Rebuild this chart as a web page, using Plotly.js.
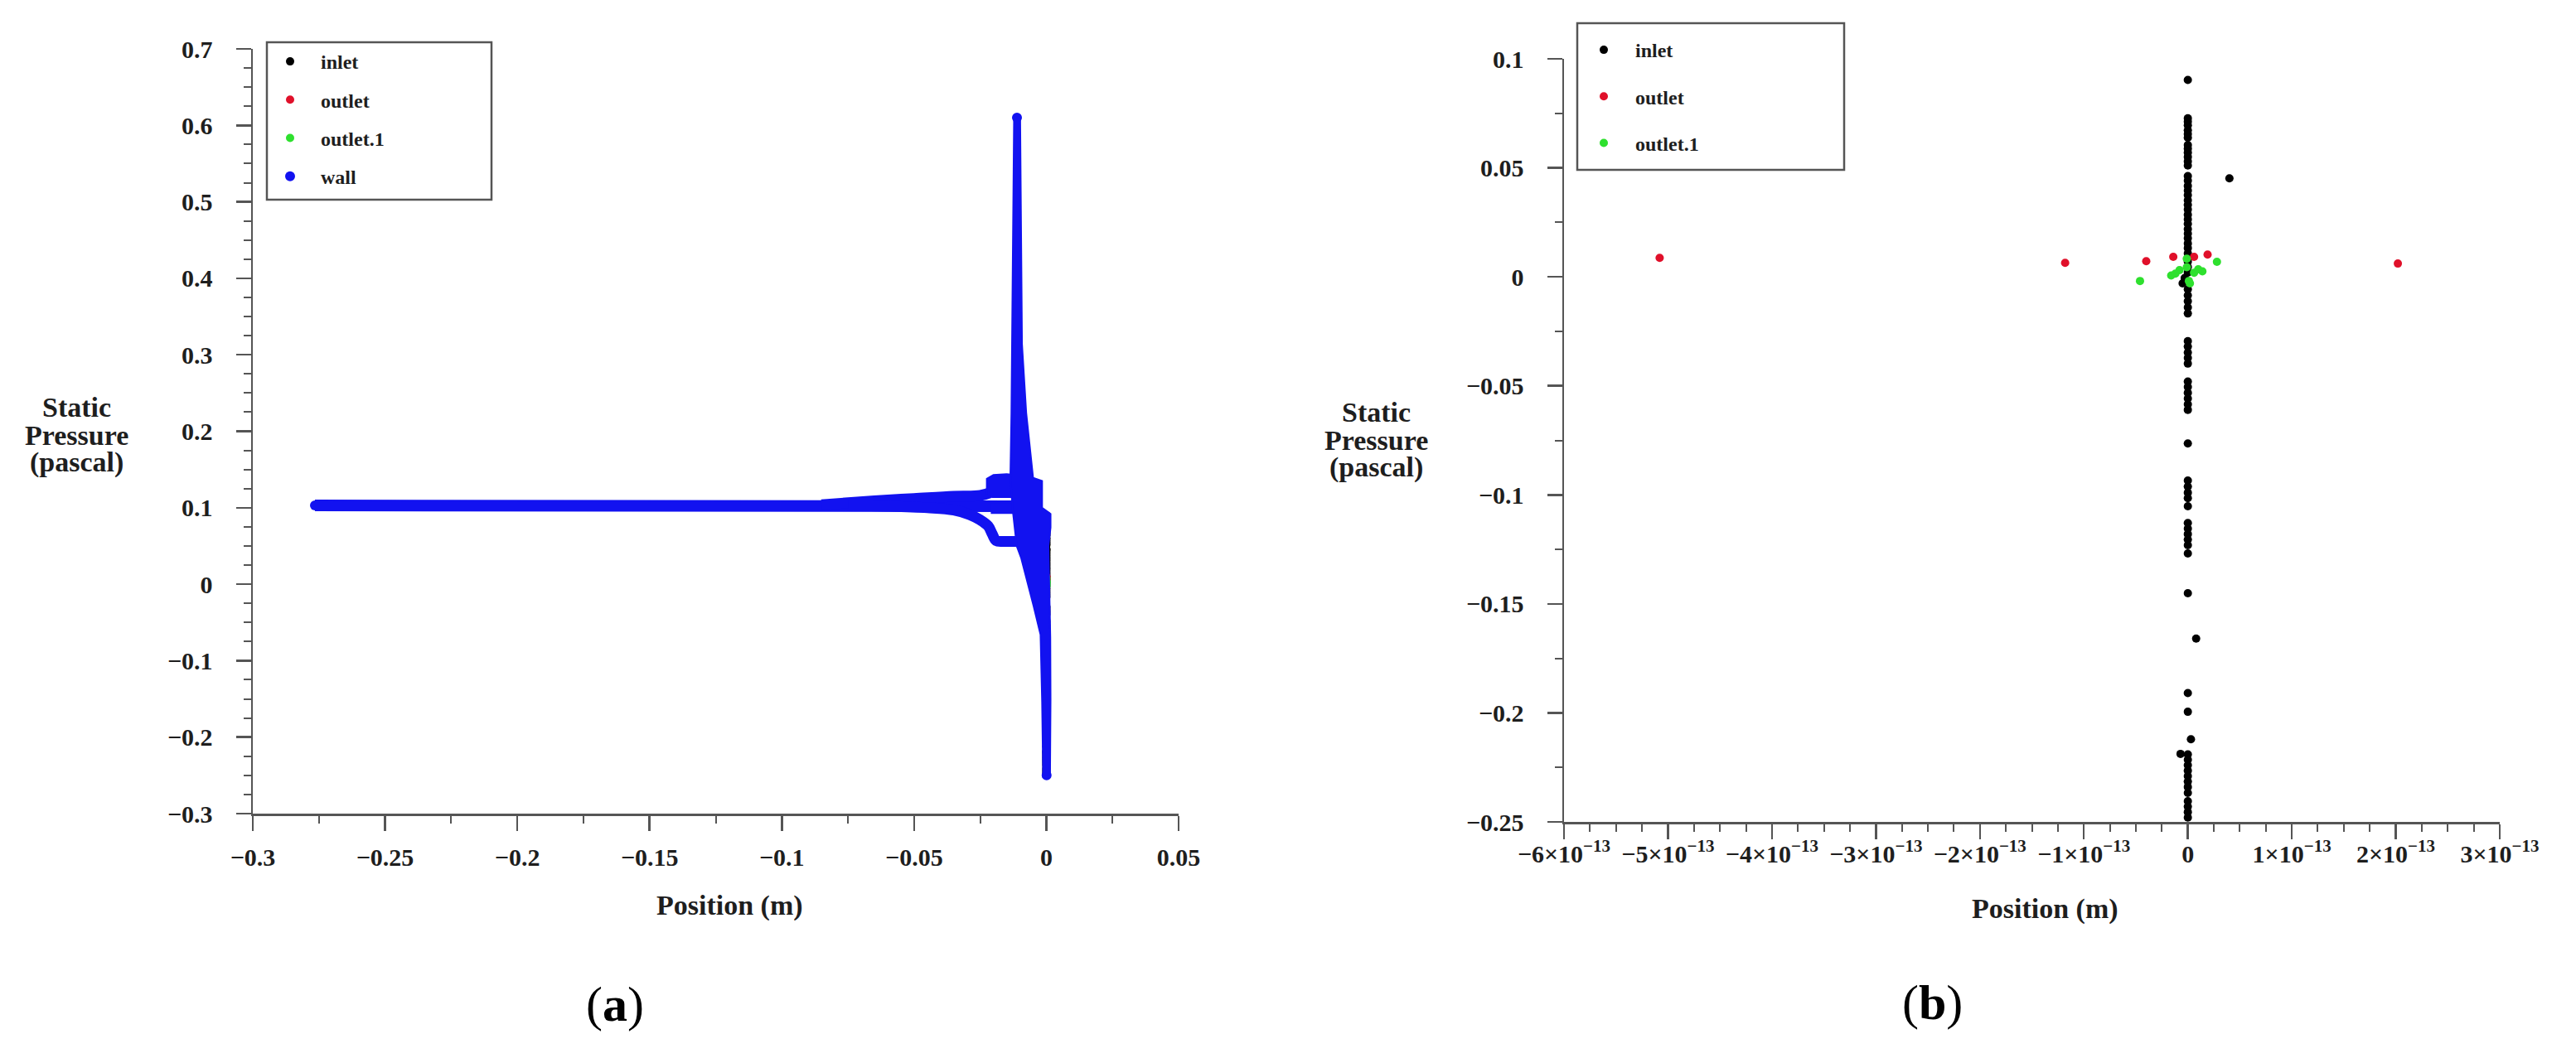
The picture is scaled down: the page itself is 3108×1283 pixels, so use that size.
<!DOCTYPE html>
<html>
<head>
<meta charset="utf-8">
<script src="https://cdn.plot.ly/plotly-3.0.1.min.js"></script>
<style>html,body{margin:0;padding:0;background:#fff;}#chart{width:3108px;height:1283px;}</style>
</head>
<body>
<div id="chart"></div>
<script>
// ---------------- DATA ----------------
// Panel (b) / (a): inlet points (x in m, y in Pa)
const inletX = [0, 0, 0, 0, 0, 0, 0, 0, 0, 0, 0, 0, 0,
  0, 0, 0, 0, 0, 0, 0, 0, 0, 0, 0, 0, 0, 0, 0, 0, 0,
  0.40e-13,
  0, 0, 0, -0.03e-13, -0.05e-13,
  0, 0, 0, 0, 0,
  0, 0, 0, 0, 0,
  0, 0, 0, 0, 0, 0,
  0,
  0, 0, 0, 0,
  0,
  0, 0, 0, 0,
  0, 0,
  0,
  0.08e-13,
  0, 0,
  0.03e-13, -0.07e-13,
  0, 0, 0, 0, 0, 0, 0, 0,
  0, 0, 0, 0];
const inletY = [0.0903, 0.0727, 0.0712, 0.0695, 0.0672, 0.0655, 0.0638, 0.0605, 0.0588, 0.0570, 0.0550, 0.0530, 0.0511,
  0.0462, 0.0441, 0.0417, 0.0396, 0.0375, 0.0351, 0.0330, 0.0309, 0.0285, 0.0264, 0.0243, 0.0219, 0.0198, 0.0177, 0.0153, 0.0132, 0.0108,
  0.0452,
  0.0070, 0.0045, 0.0020, -0.0005, -0.0030,
  -0.0057, -0.0085, -0.0112, -0.0140, -0.0168,
  -0.0295, -0.0320, -0.0347, -0.0372, -0.0398,
  -0.0480, -0.0505, -0.0532, -0.0558, -0.0585, -0.0610,
  -0.0764,
  -0.0934, -0.0962, -0.0990, -0.1015,
  -0.1052,
  -0.1129, -0.1155, -0.1180, -0.1205,
  -0.1231, -0.1269,
  -0.1451,
  -0.1659,
  -0.1909, -0.1995,
  -0.2121, -0.2188,
  -0.2190, -0.2215, -0.2240, -0.2265, -0.2290, -0.2315, -0.2340, -0.2367,
  -0.2405, -0.2430, -0.2455, -0.2480];

const outletX = [-5.08e-13, -1.18e-13, -0.40e-13, -0.14e-13, 0.06e-13, 0.19e-13, 2.02e-13];
const outletY = [0.0087, 0.0064, 0.0072, 0.0092, 0.0092, 0.0102, 0.0061];

const outlet1X = [-0.46e-13, 0.28e-13, -0.16e-13, -0.08e-13, -0.01e-13, 0.06e-13, 0.14e-13, 0.01e-13, -0.01e-13, 0.02e-13, -0.12e-13, 0.10e-13];
const outlet1Y = [-0.0019, 0.0069, 0.0006, 0.0031, 0.0044, 0.0019, 0.0025, -0.0019, 0.0083, -0.0030, 0.0015, 0.0035];

// Panel (a): wall (dense point cloud, read as outlines / bands)
const wallPtsX = [-0.2765, -0.0111, 0.0001];
const wallPtsY = [0.103, 0.610, -0.250];

const wallBandX = [-0.2765, -0.20, -0.12, -0.07, -0.03, -0.012];
const wallBandY = [0.103, 0.103, 0.103, 0.104, 0.103, 0.102];

const wallUpperX = [-0.085, -0.065, -0.050, -0.035, -0.025, -0.021];
const wallUpperY = [0.104, 0.109, 0.112, 0.115, 0.116, 0.120];

const wallLowerX = [-0.075, -0.060, -0.045, -0.035, -0.029, -0.025, -0.022, -0.0205, -0.019, -0.016, -0.010, -0.006];
const wallLowerY = [0.103, 0.102, 0.100, 0.097, 0.091, 0.084, 0.076, 0.066, 0.057, 0.056, 0.056, 0.057];

const wallMidX = [-0.021, -0.011];
const wallMidY = [0.099, 0.099];

const wallBlockX = [-0.0225, -0.0225, -0.0200, -0.0150, -0.0120, -0.0120, -0.0205];
const wallBlockY = [0.118, 0.138, 0.143, 0.144, 0.143, 0.114, 0.114];

const wallSpikeX = [-0.0122, -0.0125, -0.0128, -0.0132, -0.0136, -0.0128, -0.0112, -0.0095, -0.0048, -0.0022, -0.0016, -0.0012,
                    0.0014, 0.0016, 0.0015, 0.0012, 0.0008, 0.0016, 0.0016, -0.0016, -0.0016, -0.0050, -0.0076, -0.0092, -0.0096, -0.0099];
const wallSpikeY = [0.612, 0.470, 0.314, 0.224, 0.140, 0.100, 0.050, 0.034, -0.029, -0.066, -0.154, -0.252,
                    -0.252, -0.150, -0.070, 0.000, 0.050, 0.074, 0.092, 0.100, 0.135, 0.139, 0.224, 0.314, 0.470, 0.612];

// Tick labels for panel (b) x-axis
const xTickValsB = [-6e-13, -5e-13, -4e-13, -3e-13, -2e-13, -1e-13, 0, 1e-13, 2e-13, 3e-13];
const xTickTextB = ['\u22126\u00d710<sup>\u221213</sup>', '\u22125\u00d710<sup>\u221213</sup>', '\u22124\u00d710<sup>\u221213</sup>',
  '\u22123\u00d710<sup>\u221213</sup>', '\u22122\u00d710<sup>\u221213</sup>', '\u22121\u00d710<sup>\u221213</sup>', '0',
  '1\u00d710<sup>\u221213</sup>', '2\u00d710<sup>\u221213</sup>', '3\u00d710<sup>\u221213</sup>'];

// ---------------- STYLE ----------------
const W = 3108, H = 1283;
const px = v => v / W;
const py = v => 1 - v / H;
const FONT = 'Liberation Serif, Times New Roman, serif';
const TXT = '#1e1e1e';
const AX = '#555555';
const BLUE = '#1212f0';
const RED = '#e0102a';
const GREEN = '#2ee02e';

const mk = (c) => ({ color: c, size: 10 });

const traces = [
  // panel (a)
  { type: 'scatter', mode: 'markers', name: 'inlet', x: inletX, y: inletY, xaxis: 'x', yaxis: 'y', marker: mk('#000'), legend: 'legend', legendgroup: 'a1' },
  { type: 'scatter', mode: 'markers', name: 'outlet', x: outletX, y: outletY, xaxis: 'x', yaxis: 'y', marker: mk(RED), legend: 'legend', legendgroup: 'a2' },
  { type: 'scatter', mode: 'markers', name: 'outlet.1', x: outlet1X, y: outlet1Y, xaxis: 'x', yaxis: 'y', marker: mk(GREEN), legend: 'legend', legendgroup: 'a3' },
  { type: 'scatter', mode: 'markers', name: 'wall', x: wallPtsX, y: wallPtsY, xaxis: 'x', yaxis: 'y', marker: { color: BLUE, size: 12 }, legend: 'legend', legendgroup: 'wall' },
  { type: 'scatter', mode: 'lines', name: 'wall', x: wallBandX, y: wallBandY, xaxis: 'x', yaxis: 'y', line: { color: BLUE, width: 14 }, showlegend: false, legendgroup: 'wall' },
  { type: 'scatter', mode: 'lines', name: 'wall', x: wallUpperX, y: wallUpperY, xaxis: 'x', yaxis: 'y', line: { color: BLUE, width: 13, shape: 'spline' }, showlegend: false, legendgroup: 'wall' },
  { type: 'scatter', mode: 'lines', name: 'wall', x: wallLowerX, y: wallLowerY, xaxis: 'x', yaxis: 'y', line: { color: BLUE, width: 13, shape: 'spline' }, showlegend: false, legendgroup: 'wall' },
  { type: 'scatter', mode: 'lines', name: 'wall', x: wallMidX, y: wallMidY, xaxis: 'x', yaxis: 'y', line: { color: BLUE, width: 13 }, showlegend: false, legendgroup: 'wall' },
  { type: 'scatter', mode: 'lines', name: 'wall', x: wallBlockX, y: wallBlockY, xaxis: 'x', yaxis: 'y', fill: 'toself', fillcolor: BLUE, line: { color: BLUE, width: 2 }, showlegend: false, legendgroup: 'wall' },
  { type: 'scatter', mode: 'lines', name: 'wall', x: wallSpikeX, y: wallSpikeY, xaxis: 'x', yaxis: 'y', fill: 'toself', fillcolor: BLUE, line: { color: BLUE, width: 2 }, showlegend: false, legendgroup: 'wall' },
  // panel (b)
  { type: 'scatter', mode: 'markers', name: 'inlet', x: inletX, y: inletY, xaxis: 'x2', yaxis: 'y2', marker: mk('#000'), legend: 'legend2', legendgroup: 'b1' },
  { type: 'scatter', mode: 'markers', name: 'outlet', x: outletX, y: outletY, xaxis: 'x2', yaxis: 'y2', marker: mk(RED), legend: 'legend2', legendgroup: 'b2' },
  { type: 'scatter', mode: 'markers', name: 'outlet.1', x: outlet1X, y: outlet1Y, xaxis: 'x2', yaxis: 'y2', marker: mk(GREEN), legend: 'legend2', legendgroup: 'b3' }
];

const tickFont = { family: FONT, size: 30, weight: 'bold', color: TXT };
const axisBase = {
  showline: true, linecolor: AX, linewidth: 2.5, mirror: false,
  ticks: 'outside', ticklen: 18, tickwidth: 2.5, tickcolor: AX,
  showgrid: false, zeroline: false, tickfont: tickFont, fixedrange: true
};
const minorTicks = (d) => ({ dtick: d, ticks: 'outside', ticklen: 9, tickwidth: 2, tickcolor: AX, showgrid: false });

const layout = {
  width: W, height: H,
  paper_bgcolor: '#ffffff', plot_bgcolor: '#ffffff',
  margin: { l: 0, r: 0, t: 0, b: 0 },
  showlegend: true,
  xaxis: Object.assign({}, axisBase, {
    domain: [px(305), px(1422)], range: [-0.3, 0.05], dtick: 0.05, tick0: 0, anchor: 'y',
    ticklabelstandoff: 6, minor: minorTicks(0.025)
  }),
  yaxis: Object.assign({}, axisBase, {
    domain: [py(982), py(59)], range: [-0.3, 0.7], dtick: 0.1, tick0: 0, anchor: 'x',
    ticklabelstandoff: 22, minor: minorTicks(0.025)
  }),
  xaxis2: Object.assign({}, axisBase, {
    domain: [px(1887), px(3016)], range: [-6e-13, 3e-13], tickmode: 'array', tickvals: xTickValsB, ticktext: xTickTextB, anchor: 'y2',
    ticklabelstandoff: -8, minor: minorTicks(2.5e-14)
  }),
  yaxis2: Object.assign({}, axisBase, {
    domain: [py(992), py(71)], range: [-0.25, 0.1], dtick: 0.05, tick0: 0, anchor: 'x2',
    ticklabelstandoff: 22, minor: minorTicks(0.025)
  }),
  legend: {
    x: px(313), y: py(52), xanchor: 'left', yanchor: 'top', bgcolor: 'rgba(0,0,0,0)', borderwidth: 0,
    font: { family: FONT, size: 24, weight: 'bold', color: TXT }, itemwidth: 64, tracegroupgap: 12, traceorder: 'grouped'
  },
  legend2: {
    x: px(1897), y: py(38), xanchor: 'left', yanchor: 'top', bgcolor: 'rgba(0,0,0,0)', borderwidth: 0,
    font: { family: FONT, size: 24, weight: 'bold', color: TXT }, itemwidth: 66, tracegroupgap: 22, traceorder: 'grouped'
  },
  shapes: [
    { type: 'rect', xref: 'paper', yref: 'paper', x0: px(322), x1: px(593), y0: py(241), y1: py(51), line: { color: AX, width: 2.5 }, fillcolor: 'rgba(0,0,0,0)' },
    { type: 'rect', xref: 'paper', yref: 'paper', x0: px(1903), x1: px(2225), y0: py(205), y1: py(28), line: { color: AX, width: 2.5 }, fillcolor: 'rgba(0,0,0,0)' }
  ],
  annotations: []
};

const ann = (text, x, y, size, extra) => Object.assign({
  text: text, xref: 'paper', yref: 'paper', x: px(x), y: py(y), xanchor: 'center', yanchor: 'middle',
  showarrow: false, font: { family: FONT, size: size, weight: 'bold', color: TXT }
}, extra || {});

// y-axis titles (horizontal, three lines)
[['Static', 492], ['Pressure', 526], ['(pascal)', 558]].forEach(([t, y]) => layout.annotations.push(ann(t, 92, y, 34)));
[['Static', 498], ['Pressure', 531], ['(pascal)', 564]].forEach(([t, y]) => layout.annotations.push(ann(t, 1661, y, 34)));
// x-axis titles
layout.annotations.push(ann('Position (m)', 880, 1093, 34));
layout.annotations.push(ann('Position (m)', 2467, 1097, 34));
// panel labels
layout.annotations.push(ann('(<b>a</b>)', 742, 1212, 60, { font: { family: FONT, size: 60, weight: 'normal', color: '#000' } }));
layout.annotations.push(ann('(<b>b</b>)', 2331, 1210, 60, { font: { family: FONT, size: 60, weight: 'normal', color: '#000' } }));

Plotly.newPlot('chart', traces, layout, { displayModeBar: false, staticPlot: true });
</script>
</body>
</html>
